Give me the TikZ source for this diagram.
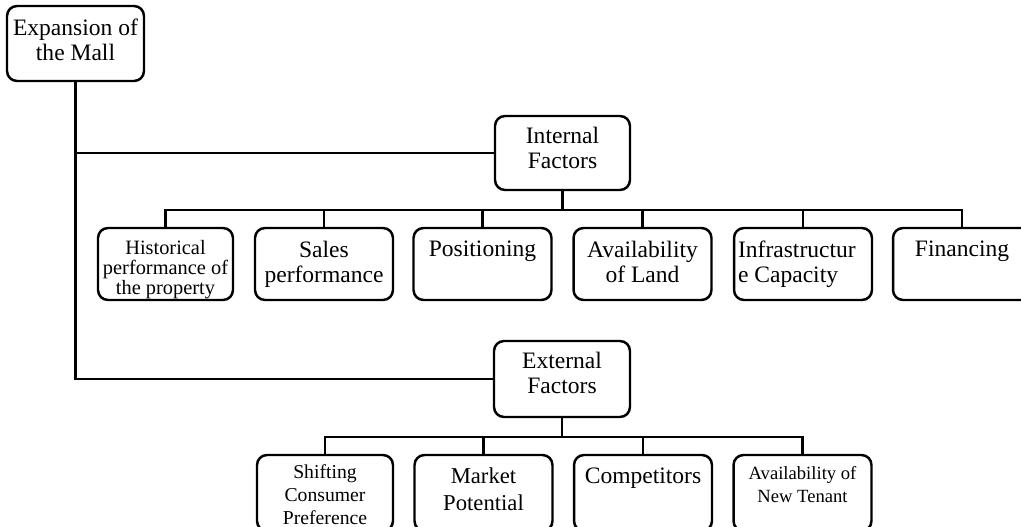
\documentclass[tikz,border=0pt]{standalone}
\usepackage{fontspec}
\setmainfont{Liberation Serif}
\usetikzlibrary{positioning}

\begin{document}
\begin{tikzpicture}[x=0.02cm,y=-0.02cm,
  box/.style={draw,line width=1.4pt,rounded corners=0.2cm,minimum width=2.76cm,minimum height=1.44cm,inner sep=0pt},
  big/.style={anchor=north,align=center,inner sep=0pt,yshift=-8pt,font=\fontsize{13.4}{14.2}\selectfont},
  small/.style={anchor=north,align=center,inner sep=0pt,yshift=-7.5pt,font=\fontsize{11.6}{11.4}\selectfont},
  wire/.style={line width=1.4pt}]
  \useasboundingbox (0,0) rectangle (1021,527);
  \clip (0,0) rectangle (1021,527);
  % top node and the two groups
  \node[box,minimum width=2.74cm,minimum height=1.5cm,label={[big]north:{Expansion of\\the Mall}}] (mall) at (75.5,43.5) {};
  \node[box,minimum width=2.7cm,minimum height=1.48cm,label={[big,yshift=1pt]north:{Internal\\Factors}}] (internal) at (562.5,153) {};
  \node[box,minimum width=2.72cm,minimum height=1.52cm,label={[big,yshift=1pt]north:{External\\Factors}}] (external) at (562,379) {};
  % internal factors
  \node[box,minimum width=2.7cm,label={[small]north:{Historical\\performance of\\the property}}] (hist) at (165.5,264) {};
  \node[box,label={[big]north:{Sales\\performance}}] (sales) at (324,264) {};
  \node[box,label={[big]north:{Positioning}}] (posit) at (482.5,264) {};
  \node[box,label={[big]north:{Availability\\of Land}}] (land) at (642.5,264) {};
  \node[box,label={[big,anchor=north west,align=left,xshift=2.8pt]north west:{Infrastructur\\e Capacity}}] (infra) at (803,264) {};
  \node[box,label={[big]north:{Financing}}] (fin) at (962,264) {};
  % external factors
  \node[box,minimum width=2.72cm,minimum height=1.52cm,label={[small,yshift=1.5pt,font=\fontsize{11.2}{13.2}\selectfont]north:{Shifting\\Consumer\\Preference}}] (shift) at (325,493) {};
  \node[box,minimum height=1.52cm,label={[big,font=\fontsize{12.9}{15}\selectfont]north:{Market\\Potential}}] (market) at (483.5,493) {};
  \node[box,minimum height=1.52cm,label={[big]north:{Competitors}}] (comp) at (643,493) {};
  \node[box,minimum height=1.52cm,label={[small,yshift=0.5pt,font=\fontsize{10.6}{12.9}\selectfont]north:{Availability of\\New Tenant}}] (tenant) at (802.5,493) {};
  % connectors
  \draw[wire] (mall.south) |- (internal.west);
  \draw[wire] (mall.south) |- (external.west);
  \coordinate (ibus) at (562.5,210);
  \coordinate (ebus) at (562,437);
  \draw[wire] (internal.south) -- (ibus);
  \draw[wire] (external.south) -- (ebus);
  \foreach \n in {hist,sales,posit,land,infra,fin}
    \draw[wire] (ibus) -| (\n.north);
  \foreach \n in {shift,market,comp,tenant}
    \draw[wire] (ebus) -| (\n.north);
\end{tikzpicture}
\end{document}
